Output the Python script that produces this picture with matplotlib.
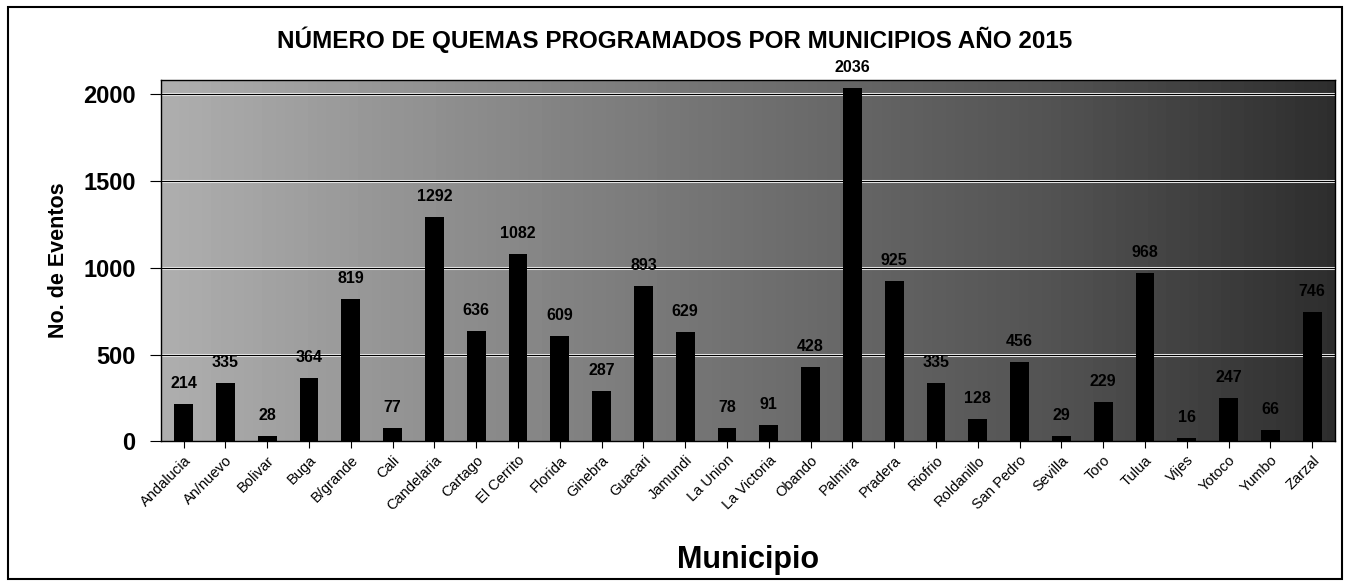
import matplotlib
matplotlib.use("Agg")
import matplotlib.pyplot as plt
import numpy as np

municipios = ["Andalucia", "An/nuevo", "Bolivar", "Buga", "B/grande", "Cali",
              "Candelaria", "Cartago", "El Cerrito", "Florida", "Ginebra",
              "Guacari", "Jamundi", "La Union", "La Victoria", "Obando",
              "Palmira", "Pradera", "Riofrio", "Roldanillo", "San Pedro",
              "Sevilla", "Toro", "Tulua", "Vijes", "Yotoco", "Yumbo", "Zarzal"]
eventos = [214, 335, 28, 364, 819, 77, 1292, 636, 1082, 609, 287, 893, 629,
           78, 91, 428, 2036, 925, 335, 128, 456, 29, 229, 968, 16, 247, 66, 746]
yticks = [0, 500, 1000, 1500, 2000]

plt.rcParams['font.family'] = ['Liberation Sans', 'DejaVu Sans']

fig = plt.figure(figsize=(13.5, 5.86), dpi=100)
ax = fig.add_axes([0.119, 0.247, 0.870, 0.617])

n = len(municipios)
x = np.arange(n)
ax.set_xlim(-0.55, n - 0.45)
ax.set_ylim(0, 2085)

# gray background, lighter at left, darker at right
grad = np.linspace(0.42, 0.85, 256).reshape(1, -1)
ax.imshow(grad, cmap="Greys", vmin=0, vmax=1, aspect="auto",
          extent=[-0.55, n - 0.45, 0, 2085], zorder=0)

for yv in yticks[1:]:
    ax.axhline(yv, color="white", lw=2.2, zorder=1)
    ax.axhline(yv, color="black", lw=0.9, zorder=1.1)

ax.bar(x, eventos, width=0.45, color="black", zorder=2)
for xi, v in zip(x, eventos):
    ax.text(xi, v + 75, str(v), ha="center", va="bottom", fontsize=11.5,
            fontweight="bold", color="black", zorder=3)

ax.set_xticks(x)
ax.set_xticklabels(municipios, rotation=45, ha="right", rotation_mode="anchor",
                   fontsize=10.5)
ax.set_yticks(yticks)
ax.set_yticklabels([str(t) for t in yticks], fontsize=17, fontweight="bold")
ax.tick_params(axis="x", length=5, direction="out")
ax.tick_params(axis="y", length=8, direction="out", pad=10)

for s in ax.spines.values():
    s.set_color("black")
    s.set_linewidth(1.0)

ax.set_ylabel("No. de Eventos", fontsize=15.5, fontweight="bold", labelpad=10)
fig.text(0.554, 0.044, "Municipio", ha="center", va="center",
         fontsize=22, fontweight="bold")
fig.text(0.5, 0.932, "NÚMERO DE QUEMAS PROGRAMADOS POR MUNICIPIOS AÑO 2015",
         ha="center", va="center", fontsize=17.5, fontweight="bold")

border = plt.Rectangle((0.006, 0.012), 0.988, 0.976, transform=fig.transFigure,
                       fill=False, edgecolor="black", lw=1.5)
fig.patches.append(border)

fig.savefig("out.png", dpi=100)
